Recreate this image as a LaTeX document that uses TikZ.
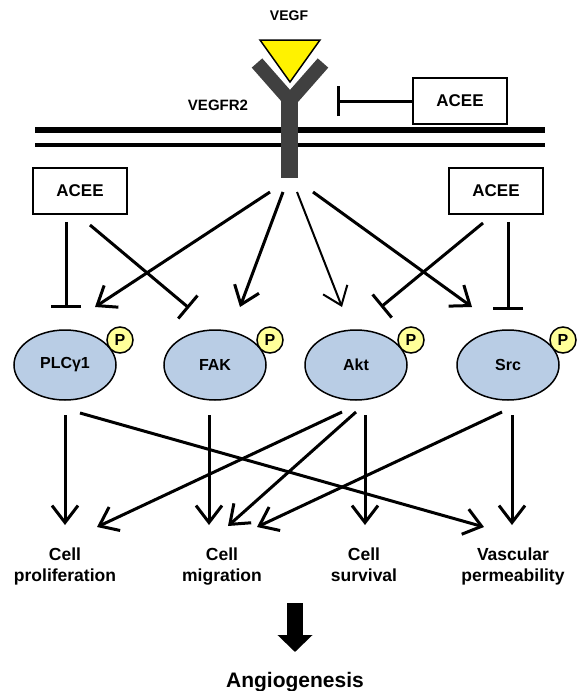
\documentclass[tikz,border=0pt]{standalone}
\usepackage{fontspec}
\setmainfont{Liberation Sans}
\usetikzlibrary{arrows.meta,shapes.geometric}
\definecolor{recgray}{HTML}{404040}
\definecolor{kinblue}{HTML}{B9CDE5}
\definecolor{pyellow}{HTML}{FFFF99}

\begin{document}
\begin{tikzpicture}[x=1pt,y=-1pt,
    act/.style={line width=3,-{Straight Barb[length=17pt,width=26pt]}},
    inh/.style={line width=3,-{Bar[width=30pt]}},
    acee/.style={draw,line width=1.5,minimum width=94pt,minimum height=46pt,
        font=\bfseries\fontsize{17}{20}\selectfont},
    kinase/.style={ellipse,draw,line width=1.5,fill=kinblue,minimum width=102pt,
        minimum height=70pt,inner sep=0pt,font=\bfseries\fontsize{16}{18}\selectfont},
    phos/.style={circle,draw,line width=1.5,fill=pyellow,minimum size=26pt,inner sep=0pt,
        font=\bfseries\fontsize{16}{18}\selectfont},
    effect/.style={align=center,font=\bfseries\fontsize{17.5}{21}\selectfont}]
    \useasboundingbox (0,0) rectangle (584,691);
            \draw[line width=6] (35,130)--(545,130);
            \draw[line width=4.5] (35,145)--(545,145);
            \draw[recgray,line width=14,line join=miter] (257,63)--(290,100.5)--(323,63);
            \draw[recgray,line width=17] (289,97)--(289,178);
            \draw[line width=1.5,fill=yellow] (260,40)--(320,40)--(290,82)--cycle;
            \node (vegf) at (289,16) {\bfseries\fontsize{14}{16}\selectfont VEGF};
            \node (vegfr) at (218,105) {\bfseries\fontsize{15}{17}\selectfont VEGFR2};
            \node[acee] (aceeT) at (460,101) {ACEE};
            \node[acee] (aceeL) at (80,191) {ACEE};
            \node[acee] (aceeR) at (496,191) {ACEE};
            \foreach \n/\x/\t in {plc/65/PLCγ1,fak/215/FAK,akt/356/Akt,src/508/Src}{
                \node[kinase] (\n) at (\x,365) {\t};
                \node[phos] (\n P) at (\x+55,340) {P};
            }
            \node[effect] (prolif) at (65,567) {Cell\strut\\proliferation\strut};
            \node[effect] (migr) at (222,567) {Cell\strut\\migration\strut};
            \node[effect] (surv) at (364,567) {Cell\strut\\survival\strut};
            \node[effect] (perm) at (513,567) {Vascular\strut\\permeability\strut};
            \node (angio) at (295,682) {\bfseries\fontsize{21}{24}\selectfont Angiogenesis};
            \coordinate (tbar) at (337,101);
            \draw[inh] (aceeT.west)--(tbar);
            \coordinate (dL) at (90,225);
            \coordinate (iplc) at (66,308);
            \coordinate (ifak) at (189,308);
            \draw[inh,shorten <=7pt] ([xshift=-14pt]aceeL.south)--(iplc);
            \draw[inh] (dL)--(ifak);
            \coordinate (dR) at (483,223);
            \coordinate (iakt) at (381,307);
            \coordinate (isrc) at (508,310);
            \draw[inh,shorten <=7pt] ([xshift=12pt]aceeR.south)--(isrc);
            \draw[inh] (dR)--(iakt);
            \foreach \s/\e/\w in {270/95/3,283/240/3,297/342/2,313/472/3}{
                \coordinate (rs\s) at (\s,192);
                \coordinate (re\e) at (\e,307);
                \draw[act,line width=\w] (rs\s)--(re\e);
            }
            \foreach \s/\e in {65/65,209/209,365/365,512/512}{
                \coordinate (ks\s) at (\s,415);
                \coordinate (ke\e) at (\e,525);
                \draw[act] (ks\s)--(ke\e);
            }
            \draw[act] (80,413)--(484,527);
            \draw[act] (342,412)--(97,527);
            \draw[act] (356,412)--(228,526);
            \draw[act] (502,412)--(257,527);
            \coordinate (big) at (295,603);
            \draw[-{Triangle[length=17pt,width=34pt]},line width=16] (big)--(295,652);
\end{tikzpicture}
\end{document}
